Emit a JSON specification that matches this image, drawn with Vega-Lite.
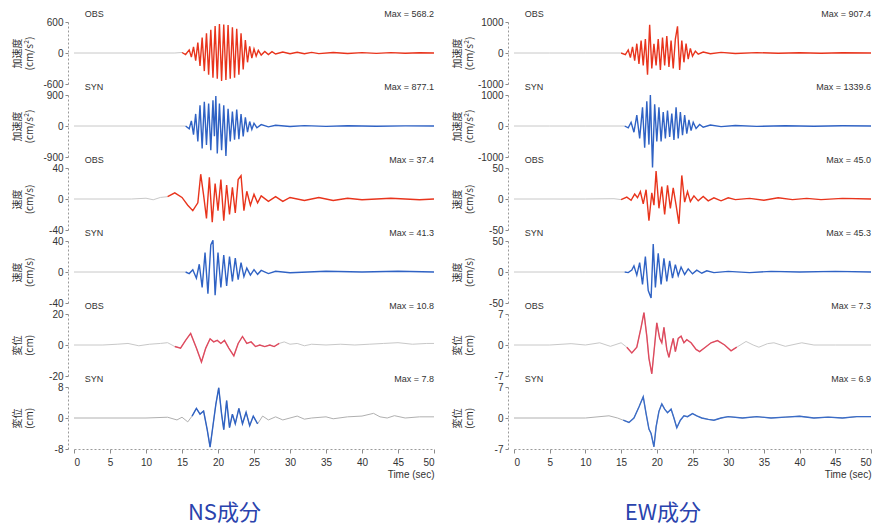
{
"$schema": "https://vega.github.io/schema/vega-lite/v6.json",
"padding": {"left": 12, "top": 10, "right": 0, "bottom": 12},
"background": "white",
"config": {
  "view": {"stroke": null},
  "axis": {"grid": false, "domainColor": "#9a9a9a", "domainDash": [2, 2], "tickColor": "#8a8a8a", "labelColor": "#333", "labelFont": "Liberation Sans", "labelFontSize": 10, "titleFont": "Noto Sans CJK JP", "titleFontSize": 10, "titleFontWeight": "normal", "titleColor": "#333", "labelOverlap": false, "labelExpr": "'' + datum.value"},
  "axisY": {"minExtent": 30, "maxExtent": 30, "offset": 6, "tickSize": 3, "labelPadding": 2, "titlePadding": 4, "tickCount": 10},
  "axisX": {"tickSize": 4, "labelPadding": 4, "tickCount": 20},
  "text": {"font": "Liberation Sans", "fontSize": 9, "color": "#333", "baseline": "bottom", "dy": -3}
},
"datasets": {
  "nsao": [{"t":0,"v":0},{"t":5,"v":0},{"t":10,"v":0},{"t":14,"v":0},{"t":15,"v":10},{"t":15.5,"v":-30},{"t":16,"v":60},{"t":16.3,"v":-80},{"t":16.6,"v":120},{"t":16.9,"v":-150},{"t":17.2,"v":200},{"t":17.5,"v":-250},{"t":17.8,"v":300},{"t":18.1,"v":-350},{"t":18.4,"v":380},{"t":18.7,"v":-420},{"t":19,"v":450},{"t":19.3,"v":-480},{"t":19.6,"v":520},{"t":19.9,"v":-500},{"t":20.2,"v":560},{"t":20.5,"v":-540},{"t":20.8,"v":550},{"t":21.1,"v":-520},{"t":21.4,"v":540},{"t":21.7,"v":-500},{"t":22,"v":500},{"t":22.3,"v":-480},{"t":22.6,"v":470},{"t":22.9,"v":-420},{"t":23.2,"v":380},{"t":23.5,"v":-320},{"t":23.8,"v":250},{"t":24.1,"v":-180},{"t":24.4,"v":130},{"t":24.7,"v":-100},{"t":25,"v":80},{"t":25.3,"v":-60},{"t":25.6,"v":50},{"t":26,"v":-40},{"t":26.5,"v":30},{"t":27,"v":-30},{"t":27.5,"v":25},{"t":28,"v":-20},{"t":29,"v":20},{"t":30,"v":-15},{"t":31,"v":15},{"t":32,"v":-15},{"t":33,"v":12},{"t":34,"v":-12},{"t":36,"v":10},{"t":38,"v":-10},{"t":40,"v":8},{"t":42,"v":-8},{"t":44,"v":8},{"t":46,"v":-6},{"t":48,"v":6},{"t":50,"v":0}],
  "nsas": [{"t":0,"v":0},{"t":5,"v":0},{"t":10,"v":0},{"t":15.5,"v":0},{"t":16,"v":-80},{"t":16.3,"v":150},{"t":16.6,"v":-250},{"t":16.9,"v":350},{"t":17.2,"v":-450},{"t":17.5,"v":600},{"t":17.8,"v":-650},{"t":18.1,"v":700},{"t":18.4,"v":-550},{"t":18.7,"v":650},{"t":19,"v":-700},{"t":19.3,"v":750},{"t":19.5,"v":-300},{"t":19.7,"v":870},{"t":19.9,"v":-800},{"t":20.2,"v":650},{"t":20.5,"v":-700},{"t":20.8,"v":600},{"t":21.1,"v":-870},{"t":21.4,"v":500},{"t":21.7,"v":-450},{"t":22,"v":420},{"t":22.3,"v":-400},{"t":22.6,"v":480},{"t":22.9,"v":-380},{"t":23.2,"v":350},{"t":23.5,"v":-300},{"t":23.8,"v":250},{"t":24.1,"v":-180},{"t":24.4,"v":130},{"t":24.7,"v":-100},{"t":25,"v":80},{"t":25.4,"v":-50},{"t":26,"v":40},{"t":27,"v":-25},{"t":28,"v":20},{"t":30,"v":-15},{"t":32,"v":12},{"t":35,"v":-10},{"t":38,"v":8},{"t":42,"v":-6},{"t":46,"v":5},{"t":50,"v":0}],
  "nsvo": [{"t":0,"v":0},{"t":8,"v":0},{"t":10,"v":1},{"t":11,"v":-1},{"t":12,"v":2},{"t":13,"v":3},{"t":14,"v":8},{"t":15,"v":2},{"t":15.8,"v":-8},{"t":16.5,"v":-15},{"t":17.2,"v":-5},{"t":17.6,"v":32},{"t":18,"v":5},{"t":18.4,"v":-25},{"t":18.8,"v":28},{"t":19.2,"v":-30},{"t":19.6,"v":20},{"t":20,"v":-15},{"t":20.4,"v":25},{"t":20.8,"v":-28},{"t":21.2,"v":18},{"t":21.6,"v":-20},{"t":22,"v":15},{"t":22.4,"v":-18},{"t":22.8,"v":25},{"t":23.2,"v":30},{"t":23.6,"v":-15},{"t":24,"v":10},{"t":24.5,"v":-8},{"t":25,"v":6},{"t":25.5,"v":-5},{"t":26,"v":4},{"t":27,"v":-3},{"t":28,"v":3},{"t":29,"v":-3},{"t":30,"v":2},{"t":32,"v":-2},{"t":34,"v":2},{"t":36,"v":-2},{"t":38,"v":1},{"t":40,"v":-1},{"t":44,"v":1},{"t":48,"v":-1},{"t":50,"v":0}],
  "nsvs": [{"t":0,"v":0},{"t":10,"v":0},{"t":15.5,"v":0},{"t":16,"v":-2},{"t":16.5,"v":3},{"t":17,"v":-8},{"t":17.4,"v":10},{"t":17.8,"v":-20},{"t":18.2,"v":25},{"t":18.6,"v":-28},{"t":19,"v":35},{"t":19.3,"v":41},{"t":19.6,"v":-30},{"t":20,"v":25},{"t":20.4,"v":-20},{"t":20.8,"v":22},{"t":21.2,"v":-18},{"t":21.6,"v":20},{"t":22,"v":-12},{"t":22.4,"v":18},{"t":22.8,"v":-10},{"t":23.2,"v":12},{"t":23.6,"v":-6},{"t":24,"v":5},{"t":24.5,"v":-4},{"t":25,"v":3},{"t":25.5,"v":-3},{"t":26,"v":2},{"t":27,"v":-2},{"t":28,"v":1},{"t":30,"v":-1},{"t":35,"v":1},{"t":40,"v":0},{"t":45,"v":1},{"t":50,"v":0}],
  "nsdo": [{"t":0,"v":0},{"t":4,"v":0},{"t":6,"v":0.5},{"t":7.5,"v":1},{"t":9,"v":-0.5},{"t":10.5,"v":0.5},{"t":12,"v":1},{"t":13,"v":1.5},{"t":14,"v":-1},{"t":14.8,"v":-2},{"t":15.5,"v":3},{"t":16.2,"v":7.5},{"t":17,"v":-2},{"t":17.7,"v":-11},{"t":18.3,"v":-2},{"t":18.9,"v":4},{"t":19.4,"v":2},{"t":19.9,"v":3},{"t":20.4,"v":1},{"t":20.9,"v":3},{"t":21.5,"v":-2},{"t":22.2,"v":-7},{"t":22.8,"v":1},{"t":23.4,"v":5.5},{"t":24,"v":1},{"t":24.6,"v":2},{"t":25.2,"v":-1},{"t":25.8,"v":0},{"t":26.5,"v":-1},{"t":27.2,"v":0},{"t":27.8,"v":-1},{"t":28.5,"v":1},{"t":29.2,"v":2},{"t":30,"v":0.5},{"t":31,"v":1},{"t":32,"v":-0.5},{"t":33,"v":0.5},{"t":35,"v":0},{"t":37,"v":0.5},{"t":39,"v":0},{"t":41,"v":0.5},{"t":43,"v":1},{"t":45,"v":1.5},{"t":47,"v":0.5},{"t":49,"v":1},{"t":50,"v":1}],
  "nsds": [{"t":0,"v":0},{"t":10,"v":0},{"t":13,"v":0.2},{"t":14.3,"v":-0.5},{"t":15,"v":0.2},{"t":15.8,"v":-1},{"t":16.4,"v":0.5},{"t":17,"v":2.5},{"t":17.5,"v":1},{"t":18,"v":1.8},{"t":18.5,"v":-3},{"t":18.9,"v":-7.5},{"t":19.3,"v":-2},{"t":19.7,"v":3.5},{"t":20.1,"v":7.8},{"t":20.5,"v":1},{"t":20.8,"v":-3},{"t":21.2,"v":4.5},{"t":21.6,"v":-2.5},{"t":22,"v":1},{"t":22.4,"v":-1.5},{"t":22.9,"v":2.5},{"t":23.4,"v":-1.5},{"t":23.9,"v":1.5},{"t":24.4,"v":-2},{"t":24.9,"v":0.5},{"t":25.5,"v":-1.5},{"t":26.2,"v":0.5},{"t":27,"v":-0.5},{"t":28,"v":0.3},{"t":29,"v":-0.5},{"t":30,"v":0},{"t":31,"v":0.5},{"t":32,"v":-0.3},{"t":33,"v":0},{"t":35,"v":0.3},{"t":36,"v":-0.2},{"t":38,"v":0.3},{"t":40,"v":0.5},{"t":41.6,"v":1.2},{"t":42.5,"v":0.3},{"t":43.5,"v":0},{"t":44.5,"v":0.6},{"t":46,"v":0},{"t":48,"v":0.3},{"t":50,"v":0.3}],
  "ewao": [{"t":0,"v":0},{"t":5,"v":0},{"t":10,"v":0},{"t":15,"v":0},{"t":15.6,"v":-50},{"t":16,"v":100},{"t":16.3,"v":-150},{"t":16.6,"v":200},{"t":16.9,"v":-250},{"t":17.2,"v":300},{"t":17.5,"v":-350},{"t":17.8,"v":400},{"t":18.1,"v":-400},{"t":18.4,"v":450},{"t":18.7,"v":-700},{"t":19,"v":907},{"t":19.3,"v":-500},{"t":19.6,"v":300},{"t":19.9,"v":-400},{"t":20.2,"v":450},{"t":20.5,"v":-550},{"t":20.8,"v":500},{"t":21.1,"v":-400},{"t":21.4,"v":550},{"t":21.7,"v":-450},{"t":22,"v":400},{"t":22.3,"v":-500},{"t":22.6,"v":450},{"t":22.9,"v":860},{"t":23.2,"v":-550},{"t":23.5,"v":400},{"t":23.8,"v":-300},{"t":24.1,"v":300},{"t":24.4,"v":-200},{"t":24.7,"v":150},{"t":25,"v":-100},{"t":25.4,"v":60},{"t":25.8,"v":-40},{"t":26.5,"v":30},{"t":27.5,"v":-25},{"t":29,"v":20},{"t":31,"v":-15},{"t":34,"v":12},{"t":37,"v":-10},{"t":40,"v":10},{"t":43,"v":-8},{"t":46,"v":8},{"t":50,"v":0}],
  "ewas": [{"t":0,"v":0},{"t":5,"v":0},{"t":10,"v":0},{"t":15.5,"v":0},{"t":16,"v":-60},{"t":16.4,"v":120},{"t":16.8,"v":-200},{"t":17.2,"v":350},{"t":17.6,"v":-400},{"t":18,"v":600},{"t":18.3,"v":-700},{"t":18.6,"v":800},{"t":18.9,"v":-600},{"t":19.1,"v":1000},{"t":19.4,"v":-1340},{"t":19.7,"v":700},{"t":20,"v":-500},{"t":20.3,"v":600},{"t":20.6,"v":-500},{"t":20.9,"v":450},{"t":21.2,"v":-400},{"t":21.5,"v":500},{"t":21.8,"v":-350},{"t":22.1,"v":400},{"t":22.4,"v":-450},{"t":22.7,"v":600},{"t":23,"v":-400},{"t":23.3,"v":450},{"t":23.6,"v":-300},{"t":23.9,"v":350},{"t":24.2,"v":-250},{"t":24.5,"v":200},{"t":24.8,"v":-150},{"t":25.1,"v":120},{"t":25.5,"v":-80},{"t":26,"v":50},{"t":26.5,"v":-40},{"t":27.5,"v":30},{"t":29,"v":-20},{"t":31,"v":15},{"t":34,"v":-12},{"t":38,"v":10},{"t":42,"v":-8},{"t":46,"v":6},{"t":50,"v":0}],
  "ewvo": [{"t":0,"v":0},{"t":10,"v":0},{"t":14,"v":0.5},{"t":15,"v":-1},{"t":15.8,"v":3},{"t":16.4,"v":-2},{"t":16.9,"v":8},{"t":17.3,"v":2},{"t":17.7,"v":12},{"t":18.1,"v":-8},{"t":18.5,"v":15},{"t":18.9,"v":-35},{"t":19.3,"v":10},{"t":19.6,"v":-10},{"t":19.9,"v":45},{"t":20.3,"v":-15},{"t":20.7,"v":20},{"t":21.1,"v":-25},{"t":21.5,"v":22},{"t":21.9,"v":-15},{"t":22.3,"v":18},{"t":22.7,"v":-10},{"t":23.1,"v":-40},{"t":23.5,"v":38},{"t":23.9,"v":-5},{"t":24.3,"v":12},{"t":24.7,"v":-4},{"t":25.2,"v":5},{"t":25.8,"v":-3},{"t":26.5,"v":4},{"t":27.2,"v":-3},{"t":28,"v":2},{"t":29,"v":-3},{"t":30,"v":2},{"t":31,"v":-1},{"t":33,"v":1},{"t":35,"v":-2},{"t":37,"v":2},{"t":39,"v":-1},{"t":41,"v":1},{"t":43,"v":-1},{"t":46,"v":1},{"t":50,"v":0}],
  "ewvs": [{"t":0,"v":0},{"t":10,"v":0},{"t":15.5,"v":0},{"t":16,"v":-1},{"t":16.5,"v":3},{"t":16.8,"v":10},{"t":17.2,"v":-5},{"t":17.6,"v":15},{"t":18,"v":-20},{"t":18.4,"v":25},{"t":18.8,"v":-30},{"t":19.2,"v":-42},{"t":19.5,"v":45},{"t":19.8,"v":-25},{"t":20.2,"v":30},{"t":20.6,"v":-20},{"t":21,"v":22},{"t":21.4,"v":-15},{"t":21.8,"v":18},{"t":22.2,"v":-10},{"t":22.6,"v":12},{"t":23,"v":-6},{"t":23.4,"v":8},{"t":23.9,"v":-4},{"t":24.4,"v":5},{"t":25,"v":-3},{"t":25.6,"v":3},{"t":26.3,"v":-2},{"t":27,"v":2},{"t":28,"v":-1},{"t":30,"v":1},{"t":33,"v":-1},{"t":36,"v":1},{"t":40,"v":0},{"t":45,"v":1},{"t":50,"v":0}],
  "ewdo": [{"t":0,"v":0},{"t":5,"v":0},{"t":8,"v":0.3},{"t":10,"v":0},{"t":12,"v":0.5},{"t":13.5,"v":-0.3},{"t":15,"v":0.5},{"t":15.8,"v":-0.5},{"t":16.5,"v":-1.8},{"t":17.2,"v":-0.5},{"t":17.8,"v":4},{"t":18.2,"v":7.3},{"t":18.6,"v":2},{"t":18.9,"v":-3},{"t":19.3,"v":-6.5},{"t":19.7,"v":0},{"t":20,"v":5},{"t":20.4,"v":1.5},{"t":20.7,"v":0.5},{"t":21,"v":4},{"t":21.4,"v":-1},{"t":21.7,"v":-2.8},{"t":22,"v":-0.5},{"t":22.3,"v":1.5},{"t":22.6,"v":-1.5},{"t":23,"v":1.5},{"t":23.4,"v":2},{"t":23.8,"v":0.5},{"t":24.2,"v":1.2},{"t":24.8,"v":0.5},{"t":25.5,"v":-1},{"t":26,"v":-1.5},{"t":26.8,"v":-0.5},{"t":27.6,"v":0.5},{"t":28.5,"v":1},{"t":29.5,"v":0},{"t":30.4,"v":-1.3},{"t":31.2,"v":-0.5},{"t":32.5,"v":0.8},{"t":33.5,"v":0},{"t":34.3,"v":-0.5},{"t":35.5,"v":0.3},{"t":36.4,"v":0.5},{"t":38,"v":-0.3},{"t":40.3,"v":0.5},{"t":42,"v":0},{"t":45,"v":0},{"t":50,"v":0}],
  "ewds": [{"t":0,"v":0},{"t":10,"v":0},{"t":13.3,"v":0.5},{"t":14.5,"v":0},{"t":15.3,"v":-0.5},{"t":16.1,"v":-1},{"t":16.8,"v":0},{"t":17.5,"v":2.5},{"t":18.1,"v":4.8},{"t":18.5,"v":1},{"t":18.9,"v":-2.5},{"t":19.2,"v":-3.5},{"t":19.6,"v":-6.5},{"t":19.9,"v":-2},{"t":20.3,"v":1.5},{"t":20.7,"v":3.2},{"t":21.1,"v":2},{"t":21.5,"v":1.2},{"t":22,"v":2},{"t":22.4,"v":0},{"t":22.8,"v":-2.2},{"t":23.3,"v":-0.5},{"t":23.8,"v":0.5},{"t":24.3,"v":0.3},{"t":25,"v":1},{"t":25.6,"v":0.5},{"t":26.3,"v":0},{"t":27.2,"v":-0.3},{"t":28,"v":-0.5},{"t":29,"v":0},{"t":30,"v":0.3},{"t":32,"v":0},{"t":34,"v":0.3},{"t":36,"v":0},{"t":38,"v":0.2},{"t":40,"v":0.4},{"t":42,"v":0},{"t":44,"v":0.2},{"t":46,"v":0},{"t":48,"v":0.3},{"t":50,"v":0.3}]
},
"hconcat": [
 {
  "title": {"text": "NS成分", "orient": "bottom", "anchor": "middle", "font": "Noto Sans CJK JP", "fontSize": 22, "fontWeight": "normal", "color": "#2a43ad", "offset": 24},
  "spacing": 11, "bounds": "flush",
  "vconcat": [
   {"width": 360, "height": 62, "data": {"name": "nsao"},
    "layer": [
     {"transform": [{"filter": "datum.t <= 15"}], "mark": {"type": "line", "color": "#c8c8c8", "strokeWidth": 1},
      "encoding": {"x": {"field": "t", "type": "quantitative", "scale": {"domain": [0, 50], "nice": false}, "axis": null}, "y": {"field": "v", "type": "quantitative", "scale": {"domain": [-600, 600], "nice": false}, "axis": {"values": [-600, 0, 600], "title": ["加速度", "(cm/s²)"]}}}},
     {"transform": [{"filter": "datum.t >= 15"}], "mark": {"type": "line", "color": "#e8341c", "strokeWidth": 1.4},
      "encoding": {"x": {"field": "t", "type": "quantitative"}, "y": {"field": "v", "type": "quantitative"}}},
     {"data": {"values": [{"s": "OBS"}]}, "mark": {"type": "text", "align": "left"}, "encoding": {"x": {"datum": 1.5}, "y": {"datum": 600}, "text": {"field": "s"}}},
     {"data": {"values": [{"s": "Max = 568.2"}]}, "mark": {"type": "text", "align": "right"}, "encoding": {"x": {"datum": 50}, "y": {"datum": 600}, "text": {"field": "s"}}}
    ]},
   {"width": 360, "height": 62, "data": {"name": "nsas"},
    "layer": [
     {"transform": [{"filter": "datum.t <= 15.5"}], "mark": {"type": "line", "color": "#c8c8c8", "strokeWidth": 1},
      "encoding": {"x": {"field": "t", "type": "quantitative", "scale": {"domain": [0, 50], "nice": false}, "axis": null}, "y": {"field": "v", "type": "quantitative", "scale": {"domain": [-900, 900], "nice": false}, "axis": {"values": [-900, 0, 900], "title": ["加速度", "(cm/s²)"]}}}},
     {"transform": [{"filter": "datum.t >= 15.5"}], "mark": {"type": "line", "color": "#2f62c4", "strokeWidth": 1.4},
      "encoding": {"x": {"field": "t", "type": "quantitative"}, "y": {"field": "v", "type": "quantitative"}}},
     {"data": {"values": [{"s": "SYN"}]}, "mark": {"type": "text", "align": "left"}, "encoding": {"x": {"datum": 1.5}, "y": {"datum": 900}, "text": {"field": "s"}}},
     {"data": {"values": [{"s": "Max = 877.1"}]}, "mark": {"type": "text", "align": "right"}, "encoding": {"x": {"datum": 50}, "y": {"datum": 900}, "text": {"field": "s"}}}
    ]},
   {"width": 360, "height": 62, "data": {"name": "nsvo"},
    "layer": [
     {"transform": [{"filter": "datum.t <= 13"}], "mark": {"type": "line", "color": "#c8c8c8", "strokeWidth": 1},
      "encoding": {"x": {"field": "t", "type": "quantitative", "scale": {"domain": [0, 50], "nice": false}, "axis": null}, "y": {"field": "v", "type": "quantitative", "scale": {"domain": [-40, 40], "nice": false}, "axis": {"values": [-40, 0, 40], "title": ["速度", "(cm/s)"]}}}},
     {"transform": [{"filter": "datum.t >= 13"}], "mark": {"type": "line", "color": "#e8341c", "strokeWidth": 1.4},
      "encoding": {"x": {"field": "t", "type": "quantitative"}, "y": {"field": "v", "type": "quantitative"}}},
     {"data": {"values": [{"s": "OBS"}]}, "mark": {"type": "text", "align": "left"}, "encoding": {"x": {"datum": 1.5}, "y": {"datum": 40}, "text": {"field": "s"}}},
     {"data": {"values": [{"s": "Max = 37.4"}]}, "mark": {"type": "text", "align": "right"}, "encoding": {"x": {"datum": 50}, "y": {"datum": 40}, "text": {"field": "s"}}}
    ]},
   {"width": 360, "height": 62, "data": {"name": "nsvs"},
    "layer": [
     {"transform": [{"filter": "datum.t <= 15.5"}], "mark": {"type": "line", "color": "#c8c8c8", "strokeWidth": 1},
      "encoding": {"x": {"field": "t", "type": "quantitative", "scale": {"domain": [0, 50], "nice": false}, "axis": null}, "y": {"field": "v", "type": "quantitative", "scale": {"domain": [-40, 40], "nice": false}, "axis": {"values": [-40, 0, 40], "title": ["速度", "(cm/s)"]}}}},
     {"transform": [{"filter": "datum.t >= 15.5"}], "mark": {"type": "line", "color": "#2f62c4", "strokeWidth": 1.4},
      "encoding": {"x": {"field": "t", "type": "quantitative"}, "y": {"field": "v", "type": "quantitative"}}},
     {"data": {"values": [{"s": "SYN"}]}, "mark": {"type": "text", "align": "left"}, "encoding": {"x": {"datum": 1.5}, "y": {"datum": 40}, "text": {"field": "s"}}},
     {"data": {"values": [{"s": "Max = 41.3"}]}, "mark": {"type": "text", "align": "right"}, "encoding": {"x": {"datum": 50}, "y": {"datum": 40}, "text": {"field": "s"}}}
    ]},
   {"width": 360, "height": 62, "data": {"name": "nsdo"},
    "layer": [
     {"mark": {"type": "line", "color": "#c8c8c8", "strokeWidth": 1},
      "encoding": {"x": {"field": "t", "type": "quantitative", "scale": {"domain": [0, 50], "nice": false}, "axis": null}, "y": {"field": "v", "type": "quantitative", "scale": {"domain": [-20, 20], "nice": false}, "axis": {"values": [-20, 0, 20], "title": ["変位", "(cm)"]}}}},
     {"transform": [{"filter": "datum.t >= 14 && datum.t <= 29"}], "mark": {"type": "line", "color": "#e04a5e", "strokeWidth": 1.4},
      "encoding": {"x": {"field": "t", "type": "quantitative"}, "y": {"field": "v", "type": "quantitative"}}},
     {"data": {"values": [{"s": "OBS"}]}, "mark": {"type": "text", "align": "left"}, "encoding": {"x": {"datum": 1.5}, "y": {"datum": 20}, "text": {"field": "s"}}},
     {"data": {"values": [{"s": "Max = 10.8"}]}, "mark": {"type": "text", "align": "right"}, "encoding": {"x": {"datum": 50}, "y": {"datum": 20}, "text": {"field": "s"}}}
    ]},
   {"width": 360, "height": 62, "data": {"name": "nsds"},
    "layer": [
     {"mark": {"type": "line", "color": "#b0b0b0", "strokeWidth": 1},
      "encoding": {"x": {"field": "t", "type": "quantitative", "scale": {"domain": [0, 50], "nice": false}, "axis": {"values": [0, 5, 10, 15, 20, 25, 30, 35, 40, 45, 50], "title": "Time (sec)", "titleFont": "Liberation Sans", "titleAnchor": "end", "titleAlign": "right", "titlePadding": 2}}, "y": {"field": "v", "type": "quantitative", "scale": {"domain": [-8, 8], "nice": false}, "axis": {"values": [-8, 0, 8], "title": ["変位", "(cm)"]}}}},
     {"transform": [{"filter": "datum.t >= 16 && datum.t <= 26"}], "mark": {"type": "line", "color": "#2f62c4", "strokeWidth": 1.4},
      "encoding": {"x": {"field": "t", "type": "quantitative"}, "y": {"field": "v", "type": "quantitative"}}},
     {"data": {"values": [{"s": "SYN"}]}, "mark": {"type": "text", "align": "left"}, "encoding": {"x": {"datum": 1.5}, "y": {"datum": 8}, "text": {"field": "s"}}},
     {"data": {"values": [{"s": "Max = 7.8"}]}, "mark": {"type": "text", "align": "right"}, "encoding": {"x": {"datum": 50}, "y": {"datum": 8}, "text": {"field": "s"}}}
    ]}
  ]
 },
 {
  "title": {"text": "EW成分", "orient": "bottom", "anchor": "middle", "font": "Noto Sans CJK JP", "fontSize": 22, "fontWeight": "normal", "color": "#2a43ad", "offset": 24},
  "spacing": 11, "bounds": "flush",
  "vconcat": [
   {"width": 357, "height": 62, "data": {"name": "ewao"},
    "layer": [
     {"transform": [{"filter": "datum.t <= 15"}], "mark": {"type": "line", "color": "#c8c8c8", "strokeWidth": 1},
      "encoding": {"x": {"field": "t", "type": "quantitative", "scale": {"domain": [0, 50], "nice": false}, "axis": null}, "y": {"field": "v", "type": "quantitative", "scale": {"domain": [-1000, 1000], "nice": false}, "axis": {"values": [-1000, 0, 1000], "title": ["加速度", "(cm/s²)"]}}}},
     {"transform": [{"filter": "datum.t >= 15"}], "mark": {"type": "line", "color": "#e8341c", "strokeWidth": 1.4},
      "encoding": {"x": {"field": "t", "type": "quantitative"}, "y": {"field": "v", "type": "quantitative"}}},
     {"data": {"values": [{"s": "OBS"}]}, "mark": {"type": "text", "align": "left"}, "encoding": {"x": {"datum": 1.5}, "y": {"datum": 1000}, "text": {"field": "s"}}},
     {"data": {"values": [{"s": "Max = 907.4"}]}, "mark": {"type": "text", "align": "right"}, "encoding": {"x": {"datum": 50}, "y": {"datum": 1000}, "text": {"field": "s"}}}
    ]},
   {"width": 357, "height": 62, "data": {"name": "ewas"},
    "layer": [
     {"transform": [{"filter": "datum.t <= 15.5"}], "mark": {"type": "line", "color": "#c8c8c8", "strokeWidth": 1},
      "encoding": {"x": {"field": "t", "type": "quantitative", "scale": {"domain": [0, 50], "nice": false}, "axis": null}, "y": {"field": "v", "type": "quantitative", "scale": {"domain": [-1000, 1000], "nice": false}, "axis": {"values": [-1000, 0, 1000], "title": ["加速度", "(cm/s²)"]}}}},
     {"transform": [{"filter": "datum.t >= 15.5"}], "mark": {"type": "line", "color": "#2f62c4", "strokeWidth": 1.4},
      "encoding": {"x": {"field": "t", "type": "quantitative"}, "y": {"field": "v", "type": "quantitative"}}},
     {"data": {"values": [{"s": "SYN"}]}, "mark": {"type": "text", "align": "left"}, "encoding": {"x": {"datum": 1.5}, "y": {"datum": 1000}, "text": {"field": "s"}}},
     {"data": {"values": [{"s": "Max = 1339.6"}]}, "mark": {"type": "text", "align": "right"}, "encoding": {"x": {"datum": 50}, "y": {"datum": 1000}, "text": {"field": "s"}}}
    ]},
   {"width": 357, "height": 62, "data": {"name": "ewvo"},
    "layer": [
     {"transform": [{"filter": "datum.t <= 15"}], "mark": {"type": "line", "color": "#c8c8c8", "strokeWidth": 1},
      "encoding": {"x": {"field": "t", "type": "quantitative", "scale": {"domain": [0, 50], "nice": false}, "axis": null}, "y": {"field": "v", "type": "quantitative", "scale": {"domain": [-50, 50], "nice": false}, "axis": {"values": [-50, 0, 50], "title": ["速度", "(cm/s)"]}}}},
     {"transform": [{"filter": "datum.t >= 15"}], "mark": {"type": "line", "color": "#e8341c", "strokeWidth": 1.4},
      "encoding": {"x": {"field": "t", "type": "quantitative"}, "y": {"field": "v", "type": "quantitative"}}},
     {"data": {"values": [{"s": "OBS"}]}, "mark": {"type": "text", "align": "left"}, "encoding": {"x": {"datum": 1.5}, "y": {"datum": 50}, "text": {"field": "s"}}},
     {"data": {"values": [{"s": "Max = 45.0"}]}, "mark": {"type": "text", "align": "right"}, "encoding": {"x": {"datum": 50}, "y": {"datum": 50}, "text": {"field": "s"}}}
    ]},
   {"width": 357, "height": 62, "data": {"name": "ewvs"},
    "layer": [
     {"transform": [{"filter": "datum.t <= 15.5"}], "mark": {"type": "line", "color": "#c8c8c8", "strokeWidth": 1},
      "encoding": {"x": {"field": "t", "type": "quantitative", "scale": {"domain": [0, 50], "nice": false}, "axis": null}, "y": {"field": "v", "type": "quantitative", "scale": {"domain": [-50, 50], "nice": false}, "axis": {"values": [-50, 0, 50], "title": ["速度", "(cm/s)"]}}}},
     {"transform": [{"filter": "datum.t >= 15.5"}], "mark": {"type": "line", "color": "#2f62c4", "strokeWidth": 1.4},
      "encoding": {"x": {"field": "t", "type": "quantitative"}, "y": {"field": "v", "type": "quantitative"}}},
     {"data": {"values": [{"s": "SYN"}]}, "mark": {"type": "text", "align": "left"}, "encoding": {"x": {"datum": 1.5}, "y": {"datum": 50}, "text": {"field": "s"}}},
     {"data": {"values": [{"s": "Max = 45.3"}]}, "mark": {"type": "text", "align": "right"}, "encoding": {"x": {"datum": 50}, "y": {"datum": 50}, "text": {"field": "s"}}}
    ]},
   {"width": 357, "height": 62, "data": {"name": "ewdo"},
    "layer": [
     {"mark": {"type": "line", "color": "#c8c8c8", "strokeWidth": 1},
      "encoding": {"x": {"field": "t", "type": "quantitative", "scale": {"domain": [0, 50], "nice": false}, "axis": null}, "y": {"field": "v", "type": "quantitative", "scale": {"domain": [-7, 7], "nice": false}, "axis": {"values": [-7, 0, 7], "title": ["変位", "(cm)"]}}}},
     {"transform": [{"filter": "datum.t >= 15.5 && datum.t <= 32"}], "mark": {"type": "line", "color": "#e04a5e", "strokeWidth": 1.4},
      "encoding": {"x": {"field": "t", "type": "quantitative"}, "y": {"field": "v", "type": "quantitative"}}},
     {"data": {"values": [{"s": "OBS"}]}, "mark": {"type": "text", "align": "left"}, "encoding": {"x": {"datum": 1.5}, "y": {"datum": 7}, "text": {"field": "s"}}},
     {"data": {"values": [{"s": "Max = 7.3"}]}, "mark": {"type": "text", "align": "right"}, "encoding": {"x": {"datum": 50}, "y": {"datum": 7}, "text": {"field": "s"}}}
    ]},
   {"width": 357, "height": 62, "data": {"name": "ewds"},
    "layer": [
     {"mark": {"type": "line", "color": "#b0b0b0", "strokeWidth": 1},
      "encoding": {"x": {"field": "t", "type": "quantitative", "scale": {"domain": [0, 50], "nice": false}, "axis": {"values": [0, 5, 10, 15, 20, 25, 30, 35, 40, 45, 50], "title": "Time (sec)", "titleFont": "Liberation Sans", "titleAnchor": "end", "titleAlign": "right", "titlePadding": 2}}, "y": {"field": "v", "type": "quantitative", "scale": {"domain": [-7, 7], "nice": false}, "axis": {"values": [-7, 0, 7], "title": ["変位", "(cm)"]}}}},
     {"transform": [{"filter": "datum.t >= 15"}], "mark": {"type": "line", "color": "#3a6cc8", "strokeWidth": 1.4},
      "encoding": {"x": {"field": "t", "type": "quantitative"}, "y": {"field": "v", "type": "quantitative"}}},
     {"data": {"values": [{"s": "SYN"}]}, "mark": {"type": "text", "align": "left"}, "encoding": {"x": {"datum": 1.5}, "y": {"datum": 7}, "text": {"field": "s"}}},
     {"data": {"values": [{"s": "Max = 6.9"}]}, "mark": {"type": "text", "align": "right"}, "encoding": {"x": {"datum": 50}, "y": {"datum": 7}, "text": {"field": "s"}}}
    ]}
  ]
 }
],
"spacing": 15
}
